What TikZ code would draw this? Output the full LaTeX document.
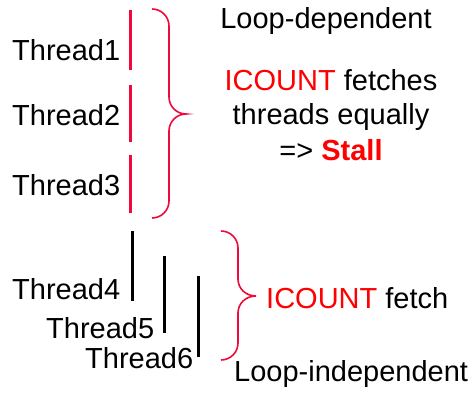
\documentclass[tikz,border=0pt]{standalone}
\usepackage{fontspec}
\setmainfont{Liberation Sans}
\definecolor{brk}{RGB}{240,10,60}
\definecolor{hot}{RGB}{255,0,0}
\begin{document}
\begin{tikzpicture}[x=1pt,y=-1pt,
  lbl/.style={font=\fontsize{29}{34}\selectfont, inner sep=0pt, anchor=base west},
  rbar/.style={draw=brk, line width=3pt},
  kbar/.style={draw=black, line width=3pt},
  brc/.style={draw=brk, line width=1.6pt}]
\useasboundingbox (0,0) rectangle (475,394);

% loop-dependent threads
\node[lbl] (t1) at (12,60) {Thread1};
\node[lbl] (t2) at (12,125) {Thread2};
\node[lbl] (t3) at (12,195) {Thread3};
\coordinate (a1) at (130,10);  \coordinate (b1) at (130,70);
\coordinate (a2) at (130,85);  \coordinate (b2) at (130,142);
\coordinate (a3) at (130,155); \coordinate (b3) at (130,213);
\draw[rbar] (a1) -- (b1);
\draw[rbar] (a2) -- (b2);
\draw[rbar] (a3) -- (b3);

% upper brace
\coordinate (u0) at (152,9);
\coordinate (ut) at (186,114);
\coordinate (u1) at (152,218);
\draw[brc] (u0) .. controls (161.4,9) and (169,16.6) .. (169,26)
  -- (169,97) .. controls (169,106.4) and (176.6,114) .. (ut)
  .. controls (176.6,114) and (169,121.6) .. (169,131)
  -- (169,201) .. controls (169,210.4) and (161.4,218) .. (u1);

\node[lbl, anchor=base] (ld) at (326,28) {Loop-dependent};
\node[lbl, anchor=base] (ic1) at (331,90) {\textcolor{hot}{ICOUNT} fetches};
\node[lbl, anchor=base] (ic2) at (331,124) {threads equally};
\node[lbl, anchor=base] (ic3) at (331,160) {=> \textcolor{hot}{\bfseries Stall}};

% loop-independent threads
\node[lbl] (t4) at (12,299) {Thread4};
\node[lbl] (t5) at (46,338) {Thread5};
\node[lbl] (t6) at (85,368) {Thread6};
\coordinate (a4) at (132,231); \coordinate (b4) at (132,301);
\coordinate (a5) at (164,256); \coordinate (b5) at (164,333);
\coordinate (a6) at (198,276); \coordinate (b6) at (198,357);
\draw[kbar] (a4) -- (b4);
\draw[kbar] (a5) -- (b5);
\draw[kbar] (a6) -- (b6);

% lower brace
\coordinate (l0) at (221,231);
\coordinate (lt) at (256,296);
\coordinate (l1) at (221,360);
\draw[brc] (l0) .. controls (230.4,231) and (238,238.6) .. (238,248)
  -- (238,279) .. controls (238,288.4) and (245.6,296) .. (lt)
  .. controls (245.6,296) and (238,303.6) .. (238,313)
  -- (238,343) .. controls (238,352.4) and (230.4,360) .. (l1);

\node[lbl] (if) at (266,308) {\textcolor{hot}{ICOUNT} fetch};
\node[lbl] (li) at (234,381) {Loop-independent};
\end{tikzpicture}
\end{document}
